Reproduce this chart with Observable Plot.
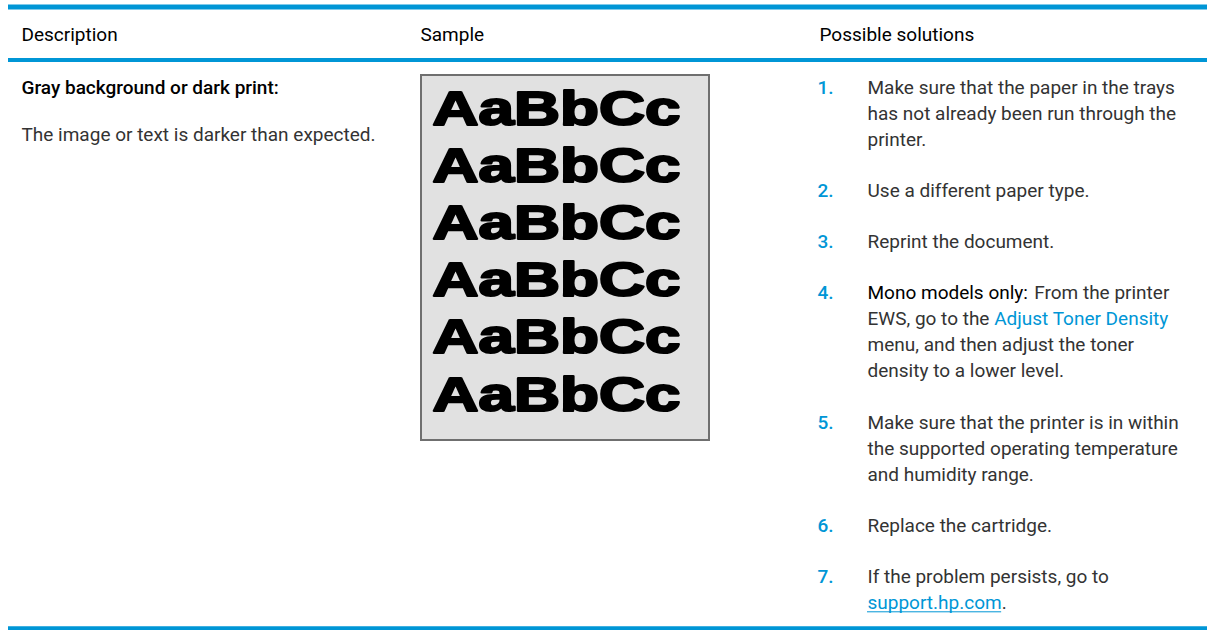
<!DOCTYPE html>
<html>
<head>
<meta charset="utf-8">
<script src="https://cdn.jsdelivr.net/npm/d3@7"></script>
<script src="https://cdn.jsdelivr.net/npm/@observablehq/plot@0.6"></script>
<style>
  html, body { margin: 0; padding: 0; background: #fff; }
  #chart svg { display: block; }
</style>
</head>
<body>
<div id="chart"></div>
<script>
// ---------- data ----------
const columnHeaders = ["Description", "Sample", "Possible solutions"];
const issueTitle = "Gray background or dark print:";
const issueDescription = "The image or text is darker than expected.";
const sampleWord = "AaBbCc";
const sampleRowCount = 6;
const solutionNumbers = ["1.", "2.", "3.", "4.", "5.", "6.", "7."];
const solutionLines = [
  [[["Make sure that the paper in the trays", "plain"]],
   [["has not already been run through the", "plain"]],
   [["printer.", "plain"]]],
  [[["Use a different paper type.", "plain"]]],
  [[["Reprint the document.", "plain"]]],
  [[["Mono models only:", "bold"], [" From the printer", "plain"]],
   [["EWS, go to the ", "plain"], ["Adjust Toner Density", "link"]],
   [["menu, and then adjust the toner", "plain"]],
   [["density to a lower level.", "plain"]]],
  [[["Make sure that the printer is in within", "plain"]],
   [["the supported operating temperature", "plain"]],
   [["and humidity range.", "plain"]]],
  [[["Replace the cartridge.", "plain"]]],
  [[["If the problem persists, go to", "plain"]],
   [["support.hp.com", "url"], [".", "plain"]]]
];

// ---------- layout / style ----------
const W = 1207, H = 630;
const BLUE = "#0096d6";
const FONT = "Roboto";
const FS = 19;
const colX = [21, 420, 819];
const headerBaseline = 40;
const rowTitleBaseline = 93;
const rowTextBaseline = 140;
const lineHeight = 26;
const paraGap = 25.3;
const numX = 817, solTextX = 867;
const sampleBox = {x1: 421, x2: 709, y1: 75, y2: 440};
const sampleX = 432, sampleFirstBaseline = 124, sampleStep = 57.2, sampleWidth = 248;
const rules = [{y: 6.5, w: 5}, {y: 59.5, w: 4}, {y: 628, w: 4.5}];

const styleOf = {
  plain: {weight: 400, fill: "#333"},
  bold:  {weight: 600, fill: "#000"},
  link:  {weight: 400, fill: BLUE},
  url:   {weight: 400, fill: BLUE}
};

const ctx = document.createElement("canvas").getContext("2d");
function measure(text, weight) {
  ctx.font = `${weight} ${FS}px ${FONT}`;
  return ctx.measureText(text).width;
}

// build positioned segments
const segs = [];
const numbers = [];
const underlines = [];
let baseline = rowTitleBaseline;
solutionLines.forEach((para, pi) => {
  numbers.push({x: numX, y: baseline, text: solutionNumbers[pi]});
  para.forEach((line, li) => {
    let cx = solTextX;
    line.forEach(([text, kind]) => {
      const st = styleOf[kind];
      const lead = text.match(/^\s*/)[0];
      const body = text.trimStart();
      cx += lead ? measure(lead, st.weight) : 0;
      const w = measure(body, st.weight);
      segs.push({x: cx, y: baseline, text: body, weight: st.weight, fill: st.fill});
      if (kind === "url") underlines.push({x1: cx, x2: cx + w, y: baseline + 2.5});
      cx += w;
    });
    if (li < para.length - 1) baseline += lineHeight;
  });
  baseline += lineHeight + paraGap;
});

const headers = columnHeaders.map((t, i) => ({x: colX[i], y: headerBaseline, text: t}));
const sampleRows = d3.range(sampleRowCount).map(i => ({x: sampleX, y: sampleFirstBaseline + i * sampleStep, text: sampleWord}));

const txt = {textAnchor: "start", lineAnchor: "bottom", fontFamily: FONT, fontSize: FS};

const chart = Plot.plot({
  width: W,
  height: H,
  margin: 0,
  x: {domain: [0, W], range: [0, W], axis: null},
  y: {domain: [0, H], range: [0, H], axis: null},
  style: {background: "#fff", fontFamily: FONT},
  marks: [
    Plot.ruleY(rules, {y: "y", x1: 8, x2: W, stroke: BLUE, strokeWidth: "w"}),
    Plot.text(headers, {...txt, x: "x", y: "y", text: "text", fill: "#000"}),
    Plot.text([{x: colX[0], y: rowTitleBaseline, text: issueTitle}], {...txt, x: "x", y: "y", text: "text", fill: "#000", fontWeight: 500}),
    Plot.text([{x: colX[0], y: rowTextBaseline, text: issueDescription}], {...txt, x: "x", y: "y", text: "text", fill: "#333"}),
    Plot.rect([sampleBox], {x1: "x1", x2: "x2", y1: "y1", y2: "y2", fill: "#e1e1e1", stroke: "#6f6f6f", strokeWidth: 2}),
    Plot.text(sampleRows, {x: "x", y: "y", text: "text", textAnchor: "start", lineAnchor: "bottom",
      fontFamily: "Liberation Sans", fontWeight: 700, fontSize: 49, fill: "#000",
      stroke: "#000", strokeWidth: 2.2, paintOrder: "normal", className: "sample-word"}),
    Plot.text(numbers, {...txt, x: "x", y: "y", text: "text", fill: BLUE, fontWeight: 500}),
    Plot.text(segs, {...txt, x: "x", y: "y", text: "text", fill: d => d.fill, fontWeight: d => d.weight}),
    Plot.ruleY(underlines, {y: "y", x1: "x1", x2: "x2", stroke: BLUE, strokeWidth: 1})
  ]
});

document.getElementById("chart").appendChild(chart);
d3.select(chart).selectAll(".sample-word text")
  .attr("textLength", sampleWidth)
  .attr("lengthAdjust", "spacingAndGlyphs");
</script>
</body>
</html>
